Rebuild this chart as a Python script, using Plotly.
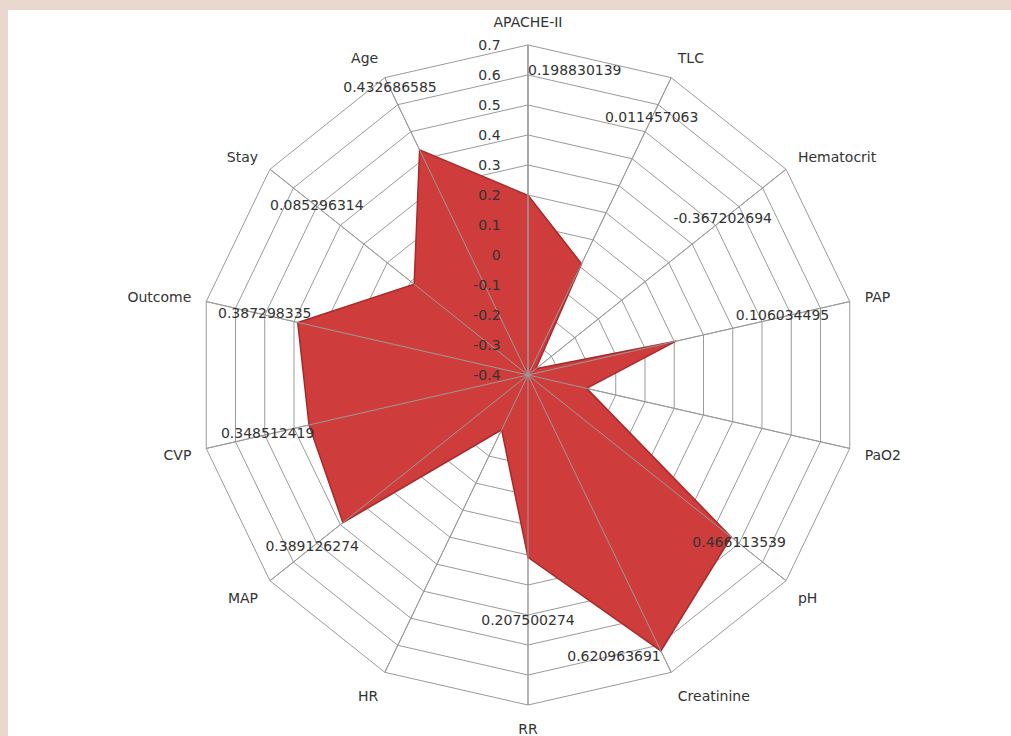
import plotly.graph_objects as go

# Correlation of each clinical variable (radar axes, clockwise from top)
categories = ["APACHE-II", "TLC", "Hematocrit", "PAP", "PaO2", "pH", "Creatinine",
              "RR", "HR", "MAP", "CVP", "Outcome", "Stay", "Age"]
values = [0.198830139, 0.011457063, -0.367202694, 0.106034495, -0.199573543,
          0.466113539, 0.620963691, 0.207500274, -0.197266341, 0.389126274,
          0.348512419, 0.387298335, 0.085296314, 0.432686585]
radial_ticks = [-0.4, -0.3, -0.2, -0.1, 0, 0.1, 0.2, 0.3, 0.4, 0.5, 0.6, 0.7]

# where each value label sits along its spoke, and how it is anchored
label_radius = [0.61, 0.55, 0.43, 0.47, 0.10, 0.50, 0.62, 0.42, 0.03, 0.52, 0.49, 0.50, 0.50, 0.66]
label_anchor = ["middle right", "middle center", "middle center", "middle center",
                "middle center", "middle center", "bottom left", "middle center",
                "middle center", "middle center", "middle center", "middle center",
                "middle center", "middle center"]

FONT = "DejaVu Sans"
TEXT = "#333333"
GRID = "#9a9a9a"
CLEAR = "rgba(0,0,0,0)"
r_min, r_max = radial_ticks[0], radial_ticks[-1]

fig = go.Figure()

# filled correlation polygon
fig.add_trace(go.Scatterpolar(
    r=values + values[:1],
    theta=categories + categories[:1],
    mode="lines",
    fill="toself",
    fillcolor="#cf3c3c",
    line=dict(color="#a82a2a", width=1.5),
    hoverinfo="skip",
    showlegend=False,
))

# spokes drawn on top of the fill
for cat in categories:
    fig.add_trace(go.Scatterpolar(
        r=[r_min, r_max],
        theta=[cat, cat],
        mode="lines",
        line=dict(color=GRID, width=1),
        hoverinfo="skip",
        showlegend=False,
    ))

# value labels
fig.add_trace(go.Scatterpolar(
    r=label_radius,
    theta=categories,
    mode="text",
    text=[f"{v:.9f}" for v in values],
    textposition=label_anchor,
    textfont=dict(family=FONT, size=14, color=TEXT),
    hoverinfo="skip",
    showlegend=False,
))

# white chart area inside a tinted frame
fig.add_shape(type="rect", xref="paper", yref="paper",
              x0=8 / 1011, x1=1, y0=0, y1=(736 - 10) / 736,
              fillcolor="white", line=dict(width=0), layer="below")

fig.update_layout(
    width=1011,
    height=736,
    margin=dict(l=0, r=0, t=0, b=0),
    paper_bgcolor="#ead8cf",
    plot_bgcolor="white",
    showlegend=False,
    font=dict(family=FONT, size=14, color=TEXT),
    polar=dict(
        domain=dict(x=[0.1958, 0.8487], y=[0.0421, 0.9389]),
        bgcolor="white",
        gridshape="linear",
        radialaxis=dict(
            range=[r_min, r_max],
            tickvals=radial_ticks,
            ticktext=[f"{t:g}" for t in radial_ticks],
            angle=90,
            tickangle=90,
            side="counterclockwise",
            showline=True,
            linecolor=GRID,
            linewidth=1,
            gridcolor=GRID,
            gridwidth=1,
            # invisible ticks keep the labels clear of the axis line
            ticks="outside",
            ticklen=22,
            tickcolor=CLEAR,
            tickfont=dict(family=FONT, size=14, color=TEXT),
            layer="above traces",
        ),
        angularaxis=dict(
            rotation=90,
            direction="clockwise",
            showline=True,
            linecolor=GRID,
            linewidth=1,
            gridcolor=GRID,
            gridwidth=1,
            ticks="outside",
            ticklen=12,
            tickcolor=CLEAR,
            tickfont=dict(family=FONT, size=14, color=TEXT),
        ),
    ),
)

fig.write_html("out.html")
